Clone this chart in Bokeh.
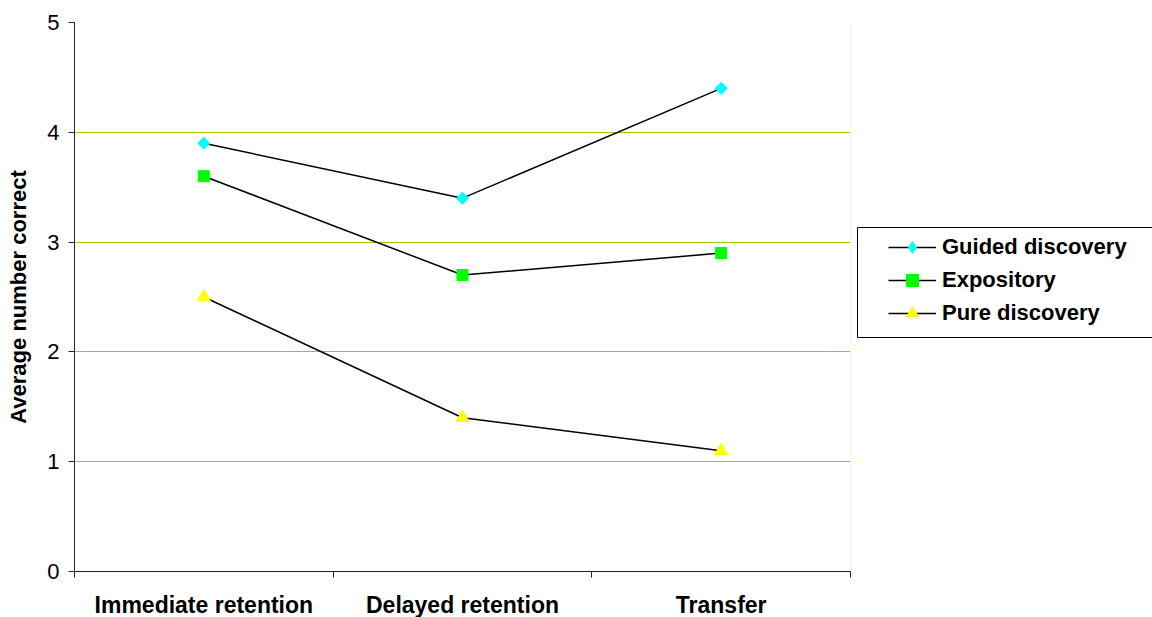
import math
from bokeh.plotting import figure
from bokeh.models import (ColumnDataSource, FixedTicker, Legend, LegendItem,
                          BoxAnnotation, Range1d, Grid)
from bokeh.embed import file_html
from bokeh.resources import INLINE

# Learning-method study: mean number of correct answers per test
categories = ["Immediate retention", "Delayed retention", "Transfer"]
guided_discovery = [3.9, 3.4, 4.4]
expository = [3.6, 2.7, 2.9]
pure_discovery = [2.5, 1.4, 1.1]
y_ticks = [0, 1, 2, 3, 4, 5]

FONT = "Liberation Sans"

n = len(categories)
x_pos = [i + 0.5 for i in range(n)]

# The frame spans the whole width to the right so the legend sits inside it;
# axis and grids are bounded to the category span.
left_px, bottom_px = 74, 571
plot_px = 776
frame_px = 1152 - left_px
x_end = n * frame_px / plot_px

p = figure(width=1152, height=617, output_backend="svg", toolbar_location=None,
           x_range=Range1d(0, x_end), y_range=Range1d(0, 5),
           frame_width=frame_px, frame_height=549,
           min_border_left=left_px, min_border_right=0, min_border_top=22,
           min_border_bottom=46)
p.background_fill_color = "white"
p.border_fill_color = "white"
p.outline_line_color = None

# y axis
p.yaxis.ticker = FixedTicker(ticks=y_ticks)
p.yaxis.axis_line_color = "#222222"
p.yaxis.major_tick_line_color = "#222222"
p.yaxis.major_tick_in = 0
p.yaxis.major_tick_out = 6
p.yaxis.minor_tick_line_color = None
p.yaxis.major_label_text_font = FONT
p.yaxis.major_label_text_font_size = "22px"
p.yaxis.major_label_text_color = "black"
p.yaxis.major_label_standoff = 9
p.yaxis.axis_label = "Average number correct"
p.yaxis.axis_label_text_font = FONT
p.yaxis.axis_label_text_font_style = "bold"
p.yaxis.axis_label_text_font_size = "22px"
p.yaxis.axis_label_text_color = "black"
p.yaxis.axis_label_standoff = 13

# x axis: labels at category centres, tick marks at category boundaries
p.xaxis.bounds = (0, n)
p.xaxis.ticker = FixedTicker(ticks=x_pos, minor_ticks=list(range(n + 1)))
p.xaxis.major_label_overrides = {x: c for x, c in zip(x_pos, categories)}
p.xaxis.axis_line_color = "#222222"
p.xaxis.major_tick_line_color = None
p.xaxis.major_tick_in = 0
p.xaxis.major_tick_out = 0
p.xaxis.minor_tick_line_color = "#222222"
p.xaxis.minor_tick_in = 0
p.xaxis.minor_tick_out = 6
p.xaxis.major_label_text_font = FONT
p.xaxis.major_label_text_font_style = "bold"
p.xaxis.major_label_text_font_size = "23px"
p.xaxis.major_label_text_color = "black"
p.xaxis.major_label_standoff = 14

# grid lines and plot-area edges, kept inside the category span
p.xgrid.grid_line_color = None
p.ygrid.ticker = FixedTicker(ticks=[1, 2, 3, 4])
p.ygrid.grid_line_color = "#99CC00"
p.ygrid.grid_line_width = 1
p.ygrid.cross_bounds = (0, n)
p.add_layout(Grid(dimension=1, ticker=FixedTicker(ticks=[5]), cross_bounds=(0, n),
                  grid_line_color="#E6E6D8", grid_line_width=1))
p.add_layout(Grid(dimension=0, ticker=FixedTicker(ticks=[n]), cross_bounds=(0, 5),
                  grid_line_color="#F4F4F4", grid_line_width=1))

# (label, values, key marker, key size, plot marker, colour, plot size, angle)
series = [
    ("Guided discovery", guided_discovery, "diamond", 11, "square", "#00FFFF", 8.5, math.pi / 4),
    ("Expository", expository, "square", 11, None, "#00FF00", 0, 0),
    ("Pure discovery", pure_discovery, "triangle", 13, None, "#FFFF00", 0, 0),
]

items = []
for name, vals, key_marker, key_size, marker, color, size, angle in series:
    src = ColumnDataSource(dict(x=x_pos, y=vals))
    ln = p.line("x", "y", source=src, line_color="black", line_width=1.5)
    key = p.scatter("x", "y", source=src, marker=key_marker, size=key_size,
                    fill_color=color, line_color=color)
    if marker is not None:
        # rotated square drawn over the key diamond at each point
        p.scatter("x", "y", source=src, marker=marker, size=size, angle=angle,
                  fill_color=color, line_color=color)
    items.append(LegendItem(label=name, renderers=[ln, key]))

# legend frame (its right side runs past the page edge); screen units are
# measured from the frame's bottom-left corner
box_l, box_r, box_t, box_b = 857, 1170, 227, 337
p.add_layout(BoxAnnotation(left=box_l - left_px, right=box_r - left_px,
                           top=bottom_px - box_t, bottom=bottom_px - box_b,
                           left_units="screen", right_units="screen",
                           top_units="screen", bottom_units="screen",
                           fill_color=None, line_color="black", line_alpha=1.0,
                           line_width=1, level="overlay"))

legend = Legend(items=items, location=(814, 243),
                border_line_color=None, background_fill_alpha=0,
                label_text_font=FONT, label_text_font_style="bold",
                label_text_font_size="22px", label_text_color="black",
                glyph_width=48, glyph_height=30, label_height=24,
                label_standoff=6, spacing=3, padding=4, margin=0)
p.add_layout(legend, "center")

open("out.html", "w").write(file_html(p, INLINE))
